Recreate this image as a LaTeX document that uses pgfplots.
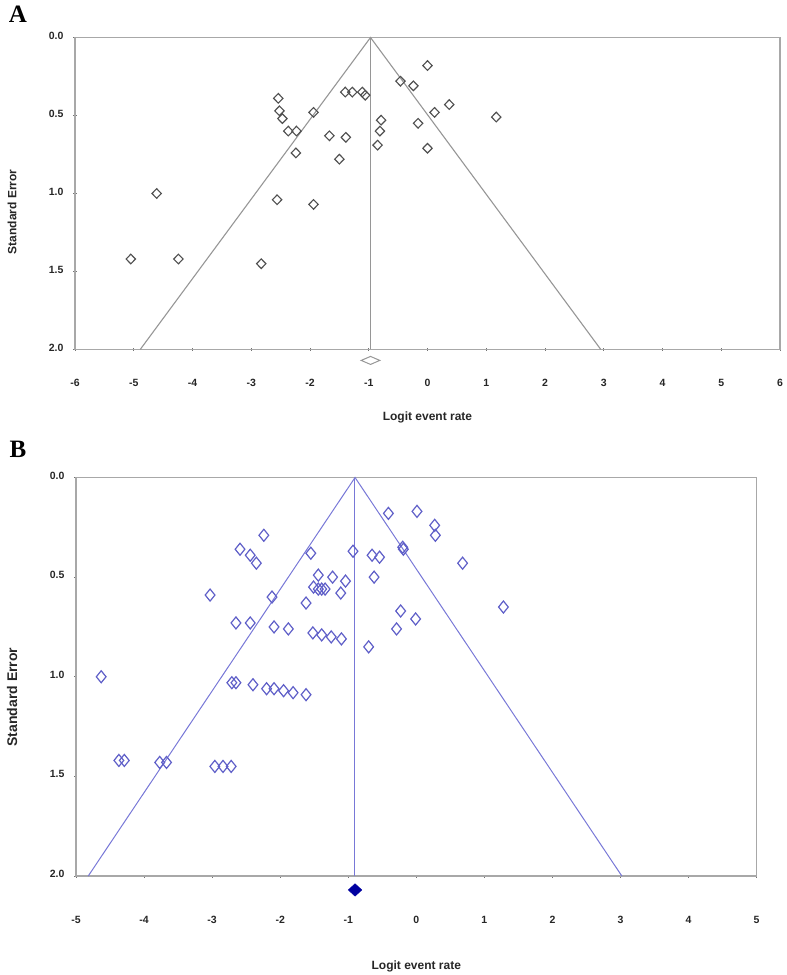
\documentclass[border=0pt]{standalone}
\usepackage{fontspec}
\setmainfont{Liberation Sans}
\newfontfamily\serifface{Liberation Serif}
\usepackage{pgfplots}
\pgfplotsset{compat=1.18}
\definecolor{axgray}{RGB}{168,168,168}
\definecolor{fungray}{RGB}{150,150,150}
\definecolor{ptgray}{RGB}{80,80,80}
\definecolor{funblue}{RGB}{120,120,215}
\definecolor{ptblue}{RGB}{95,95,200}
\definecolor{dblue}{RGB}{0,0,160}

\pgfdeclareplotmark{rdiamond}{%
  \pgfsetcornersarced{\pgfpoint{.35\pgfplotmarksize}{.35\pgfplotmarksize}}%
  \pgfpathmoveto{\pgfqpoint{.375\pgfplotmarksize}{.5\pgfplotmarksize}}%
  \pgfpathlineto{\pgfqpoint{.75\pgfplotmarksize}{0pt}}%
  \pgfpathlineto{\pgfqpoint{0pt}{-\pgfplotmarksize}}%
  \pgfpathlineto{\pgfqpoint{-.75\pgfplotmarksize}{0pt}}%
  \pgfpathlineto{\pgfqpoint{0pt}{\pgfplotmarksize}}%
  \pgfpathclose
  \pgfusepathqstroke
}
\pgfdeclareplotmark{sdiamond}{%
  \pgfsetcornersarced{\pgfpoint{.15\pgfplotmarksize}{.15\pgfplotmarksize}}%
  \pgfpathmoveto{\pgfqpoint{.375\pgfplotmarksize}{.5\pgfplotmarksize}}%
  \pgfpathlineto{\pgfqpoint{.75\pgfplotmarksize}{0pt}}%
  \pgfpathlineto{\pgfqpoint{0pt}{-\pgfplotmarksize}}%
  \pgfpathlineto{\pgfqpoint{-.75\pgfplotmarksize}{0pt}}%
  \pgfpathlineto{\pgfqpoint{0pt}{\pgfplotmarksize}}%
  \pgfpathclose
  \pgfusepathqstroke
}

\pgfplotstableread{
x y
-5.05 1.42
-4.61 1.00
-4.24 1.42
-2.83 1.45
-2.56 1.04
-1.94 1.07
-2.54 0.39
-2.52 0.47
-2.47 0.52
-2.37 0.60
-2.23 0.60
-1.94 0.48
-2.24 0.74
-1.67 0.63
-1.39 0.64
-1.50 0.78
-1.40 0.35
-1.28 0.35
-1.11 0.35
-1.06 0.37
0.00 0.18
-0.46 0.28
-0.24 0.31
0.37 0.43
0.12 0.48
1.17 0.51
-0.79 0.53
-0.16 0.55
-0.81 0.60
-0.85 0.69
0.00 0.71
}\dataA

\pgfplotstableread{
x y
-4.63 1.00
-4.37 1.42
-4.29 1.42
-3.77 1.43
-3.67 1.43
-2.96 1.45
-2.84 1.45
-2.72 1.45
-2.71 1.03
-2.65 1.03
-2.40 1.04
-2.20 1.06
-2.09 1.06
-1.95 1.07
-1.81 1.08
-1.62 1.09
-2.65 0.73
-2.44 0.73
-2.09 0.75
-1.88 0.76
-1.52 0.78
-1.39 0.79
-1.25 0.80
-1.10 0.81
-3.03 0.59
-2.12 0.60
-1.62 0.63
-2.59 0.36
-2.44 0.39
-2.35 0.43
-2.24 0.29
-1.55 0.38
-0.93 0.37
-1.44 0.49
-1.23 0.50
-1.04 0.52
-1.51 0.55
-1.44 0.56
-1.39 0.56
-1.34 0.56
-1.11 0.58
-0.41 0.18
0.01 0.17
0.27 0.24
0.28 0.29
-0.20 0.35
-0.19 0.36
-0.65 0.39
-0.54 0.40
0.68 0.43
-0.62 0.50
1.28 0.65
-0.23 0.67
-0.01 0.71
-0.29 0.76
-0.70 0.85
}\dataB

\pgfplotsset{funnel/.style={
  scale only axis, y dir=reverse, ymin=0, ymax=2,
  ytick={0,0.5,1,1.5,2}, scaled y ticks=false,
  axis line style={axgray, line width=1.6pt},
  tick style={black!55, line width=0.9pt}, major tick length=3pt, tick align=center,
  xtick pos=left, ytick pos=left,
  /pgf/number format/assume math mode=true,
  yticklabel style={/pgf/number format/fixed, /pgf/number format/fixed zerofill,
     /pgf/number format/precision=1, font=\bfseries\fontsize{10.5}{12}\selectfont,
     text=black!85, xshift=-6.5pt, yshift=2pt},
  xticklabel style={font=\bfseries\fontsize{10.5}{12}\selectfont, text=black!85},
  xlabel={Logit event rate}, ylabel={Standard Error},
  label style={font=\bfseries\fontsize{12}{14}\selectfont, text=black!85},
  clip=false,
}}

\begin{document}
\begin{tikzpicture}[x=1pt,y=1pt]
\useasboundingbox (0,0) rectangle (787,975);
\node[font=\serifface\bfseries\fontsize{25}{25}\selectfont] at (18,960.5) {A};
\node[font=\serifface\bfseries\fontsize{25}{25}\selectfont] at (18,526) {B};

\begin{axis}[funnel, at={(75pt,625.5pt)}, anchor=south west,
  width=705pt, height=312pt, xmin=-6, xmax=6, xtick={-6,-5,...,6},
  xticklabel style={yshift=-25pt},
  xlabel style={at={(axis description cs:0.5,0)}, anchor=center, yshift=-67.5pt},
  ylabel style={at={(axis description cs:-0.0894,0.441)}, anchor=center}]
\addplot[fungray, line width=1.1pt] coordinates {(-4.89,2) (-0.97,0) (2.95,2)};
\addplot[fungray, line width=1.1pt] coordinates {(-0.97,0) (-0.97,2)};
\addplot[only marks, mark=sdiamond, mark size=4.8pt,
  mark options={xscale=1.3, draw=ptgray, fill=none, line width=1.15pt}] table[x=x,y=y] {\dataA};
\addplot[only marks, mark=diamond, mark size=4pt,
  mark options={xscale=3.1, draw=fungray, fill=white, line width=1pt}] coordinates {(-0.97,2.07)};
\end{axis}

\begin{axis}[funnel, at={(76pt,99pt)}, anchor=south west,
  width=680.6pt, height=398.5pt, xmin=-5, xmax=5, xtick={-5,-4,...,5},
  xticklabel style={yshift=-35pt},
  xlabel style={at={(axis description cs:0.5,0)}, anchor=center, yshift=-90pt},
  ylabel style={at={(axis description cs:-0.094,0.449)}, anchor=center,
     font=\bfseries\fontsize{14}{16}\selectfont}]
\addplot[funblue, line width=1pt] coordinates {(-4.82,2) (-0.90,0) (3.02,2)};
\addplot[draw=funblue, line width=1.2pt] coordinates {(-0.905,0) (-0.905,2)};
\addplot[only marks, mark=rdiamond, mark size=6pt,
  mark options={xscale=1.08, draw=ptblue, fill=none, line width=1.2pt}] table[x=x,y=y] {\dataB};
\addplot[only marks, mark=diamond*, mark size=6.2pt,
  mark options={xscale=1.45, draw=dblue, fill=dblue, line width=0.5pt}] coordinates {(-0.90,2.07)};
\end{axis}
\end{tikzpicture}
\end{document}
